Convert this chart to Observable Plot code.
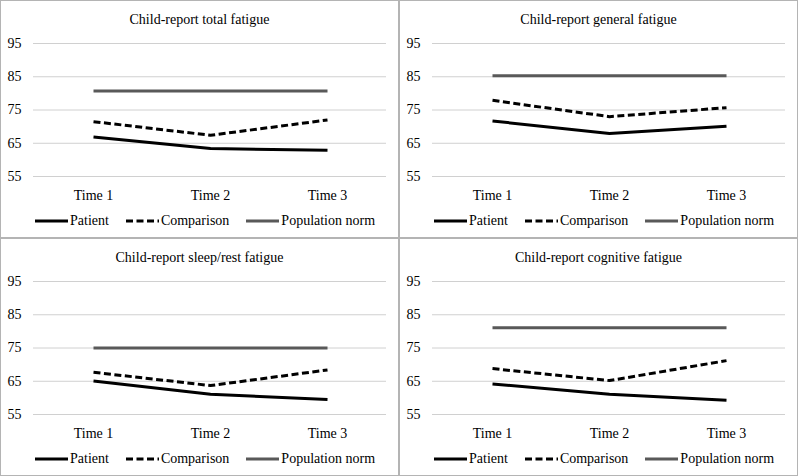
<!DOCTYPE html>
<html>
<head>
<meta charset="utf-8">
<script src="https://cdn.jsdelivr.net/npm/d3@7"></script>
<script src="https://cdn.jsdelivr.net/npm/@observablehq/plot@0.6"></script>
<style>
  html, body { margin: 0; padding: 0; background: #fff; }
  #grid {
    width: 798px; height: 476px;
    display: grid;
    grid-template-columns: 399px 399px;
    grid-template-rows: 238px 238px;
    font-family: "Liberation Serif", "Times New Roman", serif;
    color: #000;
  }
  .panel {
    box-sizing: border-box;
    border: 1px solid #b4b4b4;
    width: 399px; height: 238px;
    overflow: hidden;
  }
  .title {
    height: 32px; box-sizing: border-box;
    padding-top: 11px;
    font-size: 14px; line-height: 16px;
    text-align: center;
  }
  .legend {
    display: flex; align-items: center;
    height: 34px; box-sizing: border-box;
    padding-left: 34px; padding-top: 2px;
    font-size: 14px;
  }
  .legend .item { display: flex; align-items: center; margin-right: 17px; }
  .legend svg { display: block; margin-right: 2px; }
  svg.plot { display: block; }
</style>
</head>
<body>
<div id="grid"></div>
<script>
const times = ["Time 1", "Time 2", "Time 3"];
const panelTitles = [
  "Child-report total fatigue",
  "Child-report general fatigue",
  "Child-report sleep/rest fatigue",
  "Child-report cognitive fatigue"
];
const seriesNames = ["Patient", "Comparison", "Population norm"];
const patient = [
  [66.9, 63.4, 62.9],
  [71.7, 67.9, 70.1],
  [65.1, 61.1, 59.5],
  [64.2, 61.1, 59.3]
];
const comparison = [
  [71.5, 67.4, 72.0],
  [77.9, 73.0, 75.7],
  [67.7, 63.7, 68.4],
  [68.8, 65.2, 71.2]
];
const popNorm = [80.7, 85.3, 75.0, 81.1];
const yTicks = [55, 65, 75, 85, 95];

const styles = {
  "Patient": {stroke: "#000", strokeWidth: 3},
  "Comparison": {stroke: "#000", strokeWidth: 3, strokeDasharray: "7,3.5"},
  "Population norm": {stroke: "#595959", strokeWidth: 3}
};

const grid = document.getElementById("grid");

panelTitles.forEach((title, i) => {
  const panel = document.createElement("div");
  panel.className = "panel";
  const t = document.createElement("div");
  t.className = "title";
  t.textContent = title;
  panel.appendChild(t);

  const rows = s => times.map((time, j) => ({
    time,
    value: s === "Patient" ? patient[i][j] : s === "Comparison" ? comparison[i][j] : popNorm[i],
    series: s
  }));

  const chart = Plot.plot({
    width: 397, height: 170,
    marginTop: 10, marginBottom: 27, marginLeft: 32, marginRight: 12,
    style: {fontFamily: "'Liberation Serif', 'Times New Roman', serif", fontSize: "14px", color: "#000", background: "transparent"},
    x: {type: "point", domain: times, padding: 0.5, label: null, tickSize: 0, tickPadding: 14},
    y: {domain: [55, 95], ticks: yTicks, label: null, tickSize: 0, tickPadding: 12},
    marks: [
      Plot.ruleY(yTicks, {stroke: "#d0d0d0", strokeWidth: 1}),
      Plot.line(rows("Population norm"), {x: "time", y: "value", strokeLinecap: "butt", ...styles["Population norm"]}),
      Plot.line(rows("Comparison"), {x: "time", y: "value", strokeLinecap: "butt", ...styles["Comparison"]}),
      Plot.line(rows("Patient"), {x: "time", y: "value", strokeLinecap: "butt", ...styles["Patient"]})
    ]
  });
  chart.classList.add("plot");
  panel.appendChild(chart);

  const legend = document.createElement("div");
  legend.className = "legend";
  seriesNames.forEach(s => {
    const item = document.createElement("div");
    item.className = "item";
    const st = styles[s];
    item.innerHTML = `<svg width="33" height="10"><line x1="0" x2="33" y1="5" y2="5" stroke="${st.stroke}" stroke-width="${st.strokeWidth}" ${st.strokeDasharray ? `stroke-dasharray="${st.strokeDasharray}"` : ""}/></svg><span>${s}</span>`;
    legend.appendChild(item);
  });
  panel.appendChild(legend);
  grid.appendChild(panel);
});
</script>
</body>
</html>
